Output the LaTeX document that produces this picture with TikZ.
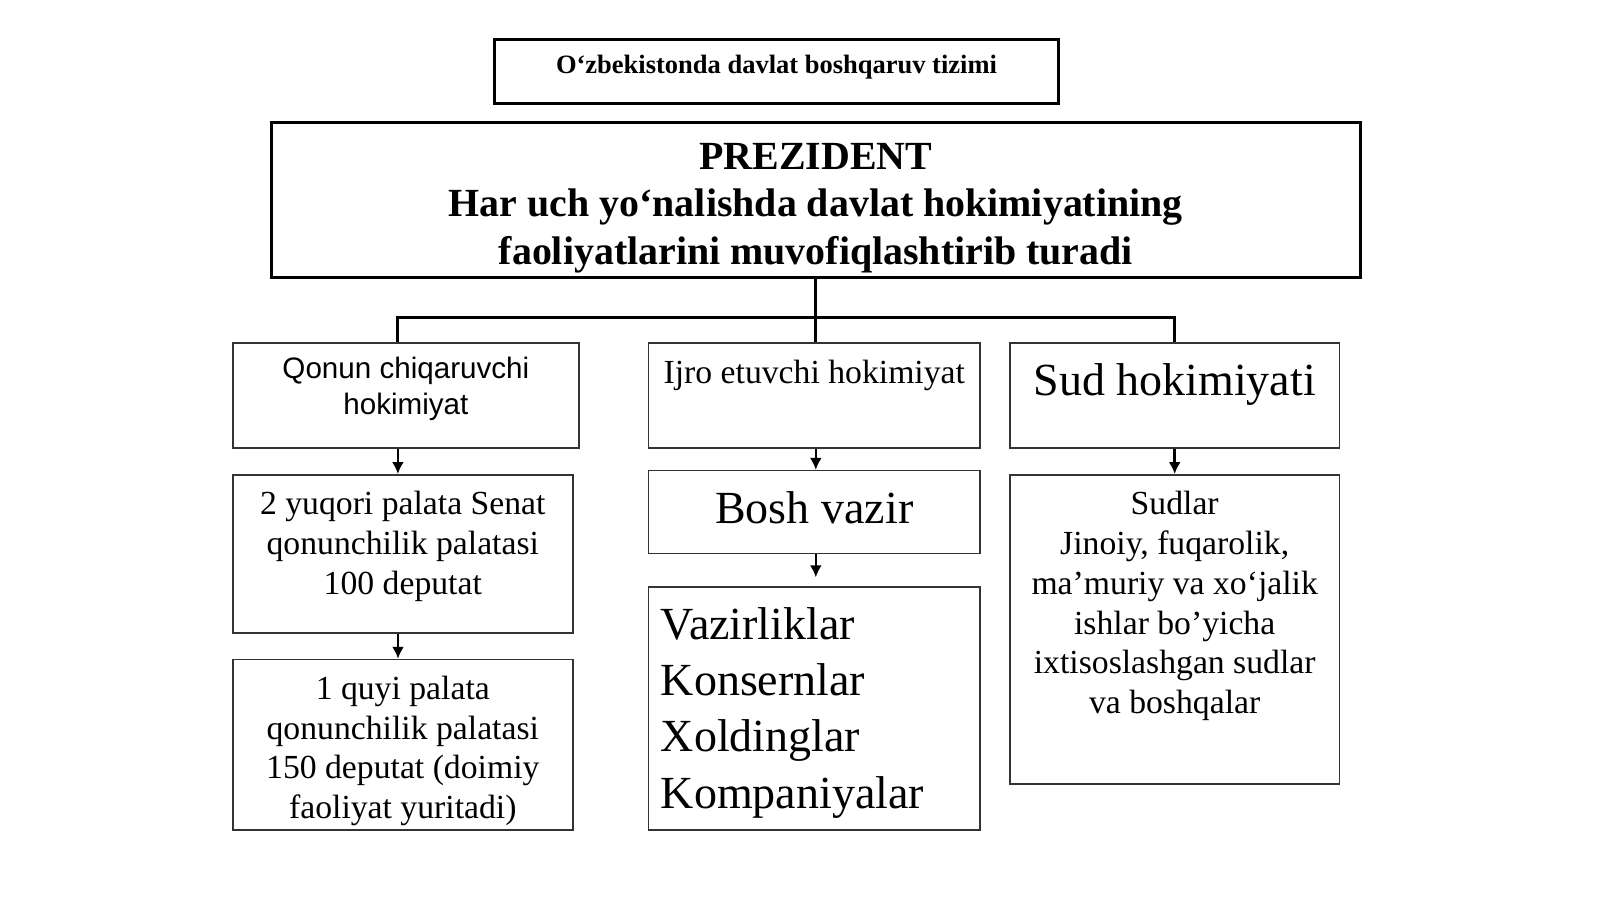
\documentclass[tikz,border=0pt]{standalone}
\usepackage{fontspec}
\setmainfont{Liberation Serif}
\setsansfont{Liberation Sans}
\usetikzlibrary{positioning,arrows.meta}

\begin{document}
\begin{tikzpicture}[x=1pt,y=-1pt]
    \tikzstyle{box}=[draw=black!80,line width=1.5pt,inner sep=0pt];
    \tikzstyle{heavy}=[draw,line width=3pt,inner sep=0pt];
    \tikzstyle{txt}=[inner sep=0pt,align=center,font=\fontsize{33.7}{39.8}\selectfont];
    \tikzstyle{big}=[font=\fontsize{46}{56.2}\selectfont];
    \tikzstyle{tree}=[draw,line width=3pt];
    \tikzstyle{arr}=[draw,line width=2.5pt,-{Latex[length=12pt,width=12pt]}];

    \useasboundingbox (0,0) rectangle (1600,899);

    % top
    \node at (776.5,71.5) (title) [heavy,minimum width=564.6pt,minimum height=63.3pt] {};
    \node (title-t) [below=17pt of title.north,inner sep=0pt,font=\bfseries\fontsize{26.5}{30}\selectfont] {O‘zbekistonda davlat boshqaruv tizimi};
    \node at (815.8,200.1) (pres) [heavy,minimum width=1088.4pt,minimum height=155.2pt] {};
    \node (pres-t) [inner sep=0pt,align=center,below=22pt of pres.north,font=\bfseries\fontsize{39.9}{47.5}\selectfont] {PREZIDENT\\Har uch yo‘nalishda davlat hokimiyatining\\faoliyatlarini muvofiqlashtirib turadi};

    % row 1
    \node at (405.9,395.6) (qonun) [box,minimum width=346.1pt,minimum height=105.2pt] {};
    \node at (814.3,395.6) (ijro) [box,minimum width=331.8pt,minimum height=105.2pt] {};
    \node at (1174.7,395.6) (sud) [box,minimum width=329.8pt,minimum height=105.2pt] {};
    \node (qonun-t) [txt,below=15pt of qonun.north,font=\sffamily\fontsize{29.6}{35.7}\selectfont] {Qonun chiqaruvchi\\hokimiyat};
    \node (ijro-t) [txt,below=18pt of ijro.north] {Ijro etuvchi hokimiyat};
    \node (sud-t) [txt,big,below=21pt of sud.north] {Sud hokimiyati};

    % row 2
    \node at (402.8,553.9) (yuqori) [box,minimum width=340pt,minimum height=158.2pt] {};
    \node at (814.3,512) (bosh) [box,big,text depth=8pt,minimum width=331.8pt,minimum height=82.7pt] {Bosh vazir};
    \node at (1174.7,629.5) (sudlar) [box,minimum width=329.8pt,minimum height=309.4pt] {};
    \node (yuqori-t) [txt,below=17pt of yuqori.north] {2 yuqori palata Senat\\qonunchilik palatasi\\100 deputat};
    \node (sudlar-t) [txt,below=17pt of sudlar.north] {Sudlar\\Jinoiy, fuqarolik,\\ma’muriy va xo‘jalik\\ishlar bo’yicha\\ixtisoslashgan sudlar\\va boshqalar};

    % row 3
    \node at (402.8,744.8) (quyi) [box,minimum width=340pt,minimum height=170.5pt] {};
    \node at (814.3,708.6) (vaz) [box,minimum width=331.8pt,minimum height=243pt] {};
    \node (quyi-t) [txt,below=17pt of quyi.north] {1 quyi palata\\qonunchilik palatasi\\150 deputat (doimiy\\faoliyat yuritadi)};
    \node (vaz-t) [txt,big,align=left,below right=21pt and 13pt of vaz.north west] {Vazirliklar\\Konsernlar\\Xoldinglar\\Kompaniyalar};

    % lines
    \coordinate (bar) at (815.8,317.5);
    \draw[tree] (pres.south) -- (bar);
    \draw[tree] ([xshift=-8pt]qonun.north) |- (bar) -| (sud.north);
    \draw[tree] (bar) -- (bar |- ijro.north);

    \draw[arr] ([xshift=-8pt]qonun.south) -- ([xshift=-8pt]qonun.south |- yuqori.north);
    \draw[arr] ([xshift=-4.8pt]yuqori.south) -- ([xshift=-4.8pt]quyi.north);
    \draw[arr] (ijro.south -| bar) -- (bosh.north -| bar);
    \draw[arr] (bosh.south -| bar) -- ([yshift=9pt]vaz.north -| bar);
    \draw[arr] (sud.south) -- (sudlar.north);
\end{tikzpicture}
\end{document}
